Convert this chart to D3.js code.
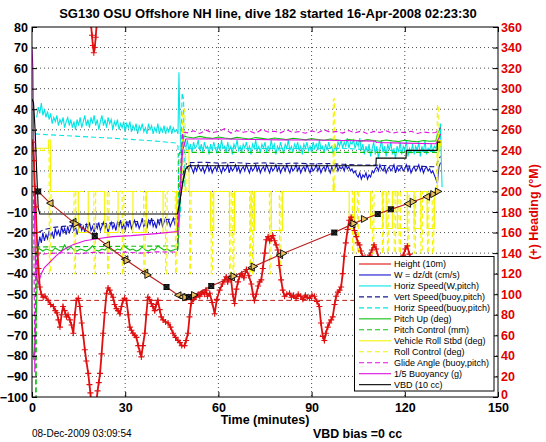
<!DOCTYPE html>
<html><head><meta charset="utf-8">
<script src="https://cdn.jsdelivr.net/npm/d3@7"></script>
<style>body{margin:0;background:#fff}svg{display:block;font-family:"Liberation Sans",Arial,Helvetica,sans-serif}</style>
</head><body><svg id="c" width="546" height="442"></svg>
<script>
// ---------------- DATA ----------------
const titleText = "SG130 OSU Offshore NH line, dive 182 started 16-Apr-2008 02:23:30";
const xLabelText = "Time (minutes)";
const y2LabelText = "(+) Heading (\u00B0M)";
const dateText = "08-Dec-2009 03:09:54";
const biasText = "VBD bias =0 cc";
const xTicks = [0, 30, 60, 90, 120, 150];
const yTicks = [-100,-90,-80,-70,-60,-50,-40,-30,-20,-10,0,10,20,30,40,50,60,70,80];
const y2Ticks = [0,20,40,60,80,100,120,140,160,180,200,220,240,260,280,300,320,340,360];
const legendLabels = ["Height (10m)","W = dz/dt (cm/s)","Horiz Speed(W,pitch)","Vert Speed(buoy,pitch)",
  "Horiz Speed(buoy,pitch)","Pitch Up (deg)","Pitch Control (mm)","Vehicle Roll Stbd (deg)",
  "Roll Control (deg)","Glide Angle (buoy,pitch)","1/5 Buoyancy (g)","VBD (10 cc)"];

// depth ("Height (10m)") trace and its markers [t, value, kind]
const depthLine = [[2,0],[5.8,-5.7],[13.2,-14.8],[20.2,-21.7],[24,-26],[29.9,-33],[36.3,-39.5],[43.3,-46.5],
  [47,-50.5],[49,-51.5],[51,-51.3],[52.5,-50.2],[57.7,-46],[64.6,-41.5],[71,-36.8],[80.6,-30.3],
  [97.3,-20],[103,-16],[107,-13.4],[111.3,-11],[115.5,-8.7],[120.9,-6],[127,-2.6],[131,0]];
const depthMarks = [[2,0,"X"],[5.8,-5.7,"L"],[13.2,-14.8,"L"],[14.2,-15.7,"R"],[20.2,-21.7,"X"],[24,-26,"L"],
  [29.9,-33,"L"],[30.6,-33.7,"R"],[36.3,-39.5,"L"],[37.3,-40.6,"R"],[43.3,-46.5,"X"],[47,-50.5,"L"],
  [48.3,-51.3,"L"],[49.5,-51.5,"R"],[50.5,-51.4,"X"],[52.3,-50.4,"R"],[57.7,-46,"X"],[64.2,-41.8,"L"],
  [65,-41.2,"R"],[70.6,-37.1,"L"],[71.5,-36.5,"R"],[79.7,-31,"L"],[81,-30.1,"R"],[97.3,-20,"X"],
  [103,-16,"L"],[103.6,-15.6,"R"],[107,-13.4,"R"],[111.3,-11,"X"],[115.5,-8.7,"X"],[120.9,-6,"L"],
  [122.7,-5,"R"],[127,-2.6,"L"],[129.3,-1.3,"R"],[130.8,0,"R"]];
const bottomDepth = [[2,-53],[131,-53]];

// heading, degrees magnetic (right axis); null = wrap break
const heading = [[0.3,248],[0.6,230],[0.9,205],[1.2,185],[1.5,160],[1.8,140],[2.1,125],[2.5,107],[3,100],[3.6,97],
  [4.2,98],[5.2,94],[6,90],[6.9,88],[7.5,84],[8,82],[8.5,75],[9,68],[9.5,80],[10,88],[10.5,84],[11.1,78],
  [11.6,80],[12.2,75],[12.7,70],[13.3,62],[13.8,80],[14.3,94],[14.9,96],[15.4,88],[16,72],[16.5,60],[17,46],
  [17.5,35],[18.1,23],[18.5,12],[18.8,4],[19.0,-3],null,[19.0,362],[19.3,352],[19.6,342],[19.9,335],[20.2,340],
  [20.5,350],[20.8,362],null,[20.8,-3],[21.1,6],[21.5,14],[21.9,23],[22.4,42],[22.9,62],[23.4,82],[24,101],
  [24.5,106],[25,104],[25.5,100],[26.1,97],[26.6,90],[27.2,86],[27.7,84],[28.3,81],[28.8,88],[29.3,94],
  [29.8,96],[30.4,94],[31,80],[31.5,68],[32,65],[32.5,62],[33.1,60],[33.6,58],[34.2,50],[34.7,44],[35.2,39],
  [35.7,50],[36.3,62],[36.8,80],[37.3,97],[37.8,95],[38.4,91],[38.9,88],[39.5,84],[40,90],[40.5,94],[41.1,85],
  [41.6,78],[42.2,75],[43,73],[43.8,72],[44.6,68],[45.4,62],[46.2,58],[47,55],[47.6,53],[48.2,50],[49.1,50],
  [49.6,55],[50.2,62],[50.7,78],[51.2,91],[52,95],[52.8,97],[53.5,100],[54,98],[54.5,101],[55,102],[55.5,100],
  [56,104],[56.5,98],[57.2,101],[58,92],[58.8,81],[59.5,95],[60.4,104],[61.3,110],[62,114],[62.5,117],[63,112],
  [63.5,116],[64.1,114],[64.6,100],[65.2,91],[65.8,105],[66.3,112],[66.8,117],[67.5,120],[68.2,116],[69,124],
  [69.8,118],[70.6,110],[71.1,100],[71.6,94],[72.2,100],[72.8,108],[73.3,112],[73.8,114],[74.3,125],[74.9,140],
  [75.4,153],[76,156],[76.5,152],[77,154],[77.5,157],[78.1,152],[78.6,148],[79.1,143],[79.6,128],[80.2,114],
  [80.7,104],[81.3,98],[82,100],[82.9,101],[83.5,97],[84.2,99],[85,96],[85.7,100],[86.5,98],[87.2,95],[88,99],
  [88.6,97],[89.3,96],[90.1,99],[90.9,98],[91.7,93],[92.5,88],[93,72],[93.6,59],[94.1,55],[94.6,62],[95.2,68],
  [95.7,72],[96.3,75],[96.8,78],[97.4,90],[97.9,98],[98.5,102],[99,104],[99.5,107],[100,120],[100.5,137],
  [101,150],[101.6,163],[102.1,172],[102.7,175],[103.2,170],[103.8,162],[104.4,156],[104.9,150],[105.4,148],
  [105.9,142],[106.4,137],[107.2,136],[108,134],[108.7,138],[109.4,143],[110.1,148],[110.8,144],[111.5,136],
  [112.5,128],[113.5,120],[114.5,112],[115.5,108],[116.5,115],[117.5,122],[118.5,130],[119.5,138],[120.2,144],
  [120.8,147],[121.5,139],[122.5,128],[123.5,118],[124.5,110],[125.5,106],[126.5,112],[127.5,118],[128.5,124],
  [129.5,120],[130.5,126],[131.2,130]];

// W = dz/dt (solid blue); pre-apogee sampled every 0.5 min from 2, post every 0.5 min from 50
const wPre = [-27,-22,-25,-20,-24,-21,-23,-19,-22,-20, -23,-18,-21,-19,-22,-17,-20,-18,-21,-17,
  -20,-18,-16,-19,-17,-21,-18,-16,-19,-17, -20,-16,-18,-15,-19,-17,-20,-16,-18,-15,
  -19,-17,-15,-18,-16,-20,-17,-15,-18,-16, -19,-15,-17,-14,-18,-16,-19,-15,-17,-14,
  -18,-16,-14,-17,-15,-18,-16,-13,-17,-15, -18,-14,-16,-13,-17,-15,-18,-14,-16,-13,
  -17,-15,-13,-16,-14,-17,-15,-13,-16,-14];
const wMid = [[47,-12],[48,0],[49,9],[49.5,12]];
const wPost = [12,10,13,11,9,12,10,13,11,10, 12,9,11,13,10,12,9,11,12,10, 13,11,9,12,10,11,13,9,12,10,
  11,13,10,12,9,11,12,10,13,11, 9,12,10,11,13,10,12,9,11,12, 10,13,11,9,12,10,11,13,10,12,
  9,11,12,10,13,11,9,12,10,11, 13,10,12,9,11,12,10,13,11,9, 12,10,11,13,10,12,9,11,12,10,
  13,11,9,12,10,11,13,10,12,11, 12,10,13,11,12,10,11,9,10,8, 7,9,6,8,7,9,6,8,7,10,
  9,11,12,10,13,11,10,12,9,11, 12,10,11,13,9,12,10,11,12,10, 11,13,10,12,9,11,12,10,11,13,
  10,12,9,11,12,10,11,9,10,8, 6,4,12];
const wEnd = [[131.5,14]];

// Horiz Speed (W,pitch) solid cyan; pre every 0.5 min from 1.5, post every 0.5 min from 49
const hsPre = [36,41,38,43,37,40,36,39,35,38, 33,36,34,37,32,35,33,36,31,34, 36,32,35,31,34,30,35,32,36,31,
  34,37,32,35,31,36,33,37,32,35, 30,34,37,32,35,31,36,33,35,30, 34,32,35,30,33,31,34,29,33,31,
  34,29,32,30,33,28,32,30,33,29, 31,28,33,30,32,28,31,29,33,28, 31,29,32,28,31,29,32,28,31,29,30];
const hsMid = [[47,28],[47.3,58],[47.6,35],[48,18],[48.5,24]];
const hsPost = [24,21,25,20,23,19,24,21,22,25, 20,23,19,24,21,22,18,23,20,24, 21,19,23,20,25,21,22,19,24,20,
  22,18,23,21,25,20,22,19,23,21, 24,20,22,18,23,21,25,20,22,19, 23,21,24,19,22,20,25,21,23,18,
  22,20,24,21,19,23,21,25,20,22, 19,23,21,24,20,22,18,23,21,24, 20,22,19,24,21,23,20,25,21,22,
  19,23,20,24,21,22,18,23,20,24, 22,25,21,24,22,26,21,24,23,25, 21,24,22,26,20,23,18,22,19,23,
  17,21,24,18,22,16,21,25,19,22, 17,23,20,24,18,21,16,22,19,24, 18,22,20,25,17,21,19,23,18,22,
  20,24,17,22,19,25,18,21,20,23, 19,22,21,24,20];
const hsEnd = [[131.5,33],[131.8,12],[132,2]];

// Vert Speed (buoy,pitch) dashed navy
const vsBuoy = [[2,-20],[4,-18.5],[7,-17.5],[10,-17],[14,-16.5],[18,-16],[22,-15.8],[26,-15.3],[30,-15],
  [34,-14.6],[38,-14.2],[42,-13.8],[46.5,-13.3],[47.2,-12],[48,2],[49,12],[50,14],[55,14.2],[60,13.8],
  [65,14.1],[70,13.6],[75,13.9],[80,13.5],[85,13.8],[90,13.4],[95,13.6],[100,13.2],[105,12.9],[110,12.8],
  [115,12.5],[120,12.4],[125,12.2],[130,12],[131,16],[131.5,17]];
// Horiz Speed (buoy,pitch) dashed cyan
const hsBuoy = [[1,28],[5,27.6],[10,27.2],[15,26.8],[20,26.4],[25,26],[30,25.5],[35,25],[40,24.5],[46.5,23.5],
  [47,22],[47.3,-15],[47.8,-10],[48.3,48],[48.8,45],[49,2],[49.4,20],[50,21],[60,21.2],[70,20.8],[80,21],
  [90,20.7],[100,21],[110,20.2],[120,19.8],[130,19.3],[131.5,24]];

// Pitch Up (deg) solid green
const pitchStart = [[0,-60],[0.3,-78],[0.6,-82],[1,-72],[1.5,-55],[1.8,-30],[2.2,-27.5]];
const pitchPre = [-28,-29,-28,-28.5,-29,-27.5,-28.5,-29,-26,-28.5, -27,-28.5,-29,-28,-28.5,-29,-28,-26.5,-28.5,-29,
  -28,-28.5,-27,-28.5,-29,-28,-28.5,-26,-27.5,-28.5, -28,-29,-28.5,-27,-28.5,-29,-28,-28.5,-26.5,-27.5,
  -28.5,-28,-29,-28.5,-28];
const pitchMid = [[47,-28],[47.5,-10],[48.2,20],[48.8,27]];
const pitchPost = [26.5,26,26.8,26.2,25.8,26.5,26,25.6,26.3,25.9, 25.5,26.2,25.8,25.4,26,25.6,25.2,25.9,25.5,25.1,
  25.7,25.3,24.9,25.5,25.1,24.7,25.3,24.9,24.5,25.2, 24.8,24.4,25,24.6,24.3,24.9,24.5,24.2,24.8,24.4,24.6];
const pitchEnd = [[130.5,28],[131.5,31]];
// Pitch Control (mm) dashed green
const pitchCtl = [[0,-27],[1.1,-27],[1.2,-112],[1.35,-112],[1.45,-27],[46.8,-26.5],[47.3,18],[47.6,19],
  [131,19],[131.5,25]];

// Vehicle Roll Stbd (deg) solid yellow
const roll = [[0,18],[0.3,21],[5.3,21],[5.4,25],[5.9,25],[6,0],[14.9,0],[14.9,-20],[18.1,-20],[18.1,0],
  [23.4,0],[23.4,-20],[27.7,-20],[27.7,0],[32.5,0],[32.5,-20],[36.8,-20],[36.8,0],[42.2,0],[42.2,-20],
  [46.5,-20],[46.5,0],[49.3,0],[49.4,20],[50.5,20],[50.6,0],[57.5,0],[57.5,-19],[58.5,-19],[58.5,0],
  [63.6,0],[63.6,-19],[65.2,-19],[65.2,0],[70.5,0],[70.5,-19],[71.6,-19],[71.6,0],[77,0],[77,-19],
  [80.6,-19],[80.6,0],[97,0],[97.1,6],[97.3,0],[102.1,0],[102.1,-18],[103.8,-18],[103.8,0],[109,0],
  [109,-18],[112.9,-18],[112.9,0],[114,0],[114,-18],[116,-18],[116,0],[117.6,0],[117.6,-18],[120.8,-18],
  [120.8,0],[123,0],[123,-18],[125.2,-18],[125.2,0],[127.2,0],[127.2,-18],[129.5,-18],[129.5,0],
  [130.5,0],[130.8,28],[131.2,20],[131.5,25]];
// Roll Control (deg) dashed yellow
const rollCtl = [[0,20],[5.5,20],[5.6,-40],[6,-40],[6.1,0],[13.5,0],[13.6,-40],[14,-40],[14.1,0],[19.9,0],
  [20,-40],[20.4,-40],[20.5,0],[24.2,0],[24.3,-40],[24.7,-40],[24.8,0],[29,0],[29.1,-40],[29.5,-40],
  [29.6,0],[35.9,0],[36,-40],[36.4,-40],[36.5,0],[42.9,0],[43,-40],[43.4,-40],[43.5,0],[46.1,0],
  [46.2,-40],[46.6,-40],[46.7,0],[48.3,0],[48.5,40],[49.2,40],[49.6,0],[50.7,0],[50.8,-40],[51.1,-40],
  [51.2,0],[57.6,0],[57.7,-40],[58.1,-40],[58.2,0],[63.5,0],[63.6,-40],[64,-40],[64.1,0],[64.6,0],
  [64.7,-40],[65,-40],[65.1,0],[70,0],[70.1,-40],[70.4,-40],[70.5,0],[70.9,0],[71,-40],[71.3,-40],
  [71.4,0],[76.4,0],[76.5,-40],[76.9,-40],[77,0],[79.6,0],[79.7,-40],[80.1,-40],[80.2,0],[96.9,0],
  [97,45],[97.4,45],[97.5,0],[103.1,0],[103.2,-30],[103.6,-30],[103.7,0],[104.7,0],[104.8,-30],
  [105.1,-30],[105.2,0],[109.5,0],[109.6,-30],[110,-30],[110.1,0],[112.7,0],[112.8,-30],[113.1,-30],
  [113.2,0],[114.3,0],[114.4,-30],[114.8,-30],[114.9,0],[116.5,0],[116.6,-30],[117,-30],[117.1,0],
  [118.1,0],[118.2,-30],[118.6,-30],[118.7,0],[120.8,0],[120.9,-30],[121.3,-30],[121.4,0],[122.9,0],
  [123,-30],[123.4,-30],[123.5,0],[125.1,0],[125.2,-30],[125.6,-30],[125.7,0],[127.2,0],[127.3,-30],
  [127.7,-30],[127.8,0],[128.8,0],[128.9,-30],[129.3,-30],[129.4,0],[130.3,0],[130.5,42],[130.9,42],
  [131.1,20],[131.5,24]];

// Glide Angle (buoy,pitch) dashed magenta
const glideStart = [[0.5,0],[0.9,-88],[1.2,-40],[1.6,-31],[5,-30.2],[10,-29.8],[15,-30.3],[20,-29.6],
  [25,-30.1],[30,-29.5],[35,-30],[40,-29.4],[46.8,-29.5],[47.5,0],[48.5,29]];
const glidePost = [28.5,29.5,28.2,29.8,28.6,29.2,30.5,28.4,29.6,28.8, 29.4,28.2,30.2,28.9,29.3,28.5,29.9,28.7,29.1,28.3,
  29.5,28.6,30,28.8,29.2,28.4,29.6,28.5,29.4,28.1, 29.2,28.7,29.5,28.3,29,28.6,29.3,28.2,28.9,28.5,28.7];
const glideEnd = [[131.5,31]];
// 1/5 Buoyancy (g) solid magenta
const buoy = [[0,69],[0.3,60],[0.6,20],[0.9,-20],[1.2,-35],[1.5,-42],[2,-45],[3,-40],[4,-37],[6,-34],
  [8,-31],[10,-28.5],[13,-26],[17,-24],[21,-23],[26,-22],[32,-21.5],[40,-20.5],[46.8,-19.5],[47.5,-5],
  [48.5,20],[49.5,25.5],[60,25.6],[70,25.3],[80,25.1],[90,25],[100,24.8],[110.6,24.5],[110.8,23.8],
  [120,23.5],[130,23.2],[131,26],[131.5,28]];
// VBD (10 cc) solid black
const vbd = [[0,45],[0.5,43],[1,30],[1.5,10],[2,-8],[2.5,-11],[46.8,-11],[47.5,-6],[48.5,4],[49.5,11],
  [50.5,12.5],[110.7,12.5],[110.8,16.2],[120.4,16.2],[120.5,20],[130.4,20],[130.5,24],[131.5,24]];

// ---------------- HELPERS ----------------
function seq(t0, dt, vals){ return vals.map((v,i)=>[t0+i*dt, v]); }

const W = 546, H = 442;
const m = {left:32, top:27, right:48, bottom:45};
const pw = W - m.left - m.right, ph = H - m.top - m.bottom;
const x = d3.scaleLinear().domain([0,150]).range([m.left, m.left+pw]);
const y = d3.scaleLinear().domain([-100,80]).range([m.top+ph, m.top]);
const y2 = d3.scaleLinear().domain([0,360]).range([m.top+ph, m.top]);

const svg = d3.select("#c");
const font = '"Liberation Sans",Arial,Helvetica,sans-serif';

// grid
const grid = svg.append("g").attr("stroke","#000").attr("stroke-width",0.7).attr("stroke-dasharray","1,3");
grid.selectAll("line.h").data(yTicks.filter(v=>v>-100&&v<80)).join("line")
  .attr("x1",m.left).attr("x2",m.left+pw).attr("y1",d=>y(d)).attr("y2",d=>y(d));
grid.selectAll("line.v").data(xTicks.filter(v=>v>0&&v<150)).join("line").attr("class","v")
  .attr("y1",m.top).attr("y2",m.top+ph).attr("x1",d=>x(d)).attr("x2",d=>x(d));

// clip
svg.append("clipPath").attr("id","clip").append("rect")
  .attr("x",m.left).attr("y",m.top).attr("width",pw).attr("height",ph);
const plot = svg.append("g").attr("clip-path","url(#clip)");

const line = d3.line().defined(d=>d!=null).x(d=>x(d[0])).y(d=>y(d[1]));
const line2 = d3.line().defined(d=>d!=null).x(d=>x(d[0])).y(d=>y2(d[1]));

const C = {red:"#e01010", depth:"#b8201c", blue:"#1414d0", cyan:"#00e6e6", navy:"#18188c",
  green:"#10c010", yellow:"#f4f400", magenta:"#e010e0", black:"#000"};
const DASH = "5,3";

const series = [
  {d:[...seq(2,0.5,wPre),...wMid,...seq(50,0.5,wPost),...wEnd], c:C.blue},
  {d:[...seq(1.5,0.5,hsPre),...hsMid,...seq(49,0.5,hsPost),...hsEnd], c:C.cyan},
  {d:vsBuoy, c:C.navy, dash:DASH},
  {d:hsBuoy, c:C.cyan, dash:DASH},
  {d:[...pitchStart,...seq(2.5,1,pitchPre),...pitchMid,...seq(50,2,pitchPost),...pitchEnd], c:C.green},
  {d:pitchCtl, c:C.green, dash:DASH},
  {d:roll, c:C.yellow},
  {d:rollCtl, c:C.yellow, dash:DASH},
  {d:[...glideStart,...seq(50,2,glidePost),...glideEnd], c:C.magenta, dash:DASH},
  {d:buoy, c:C.magenta},
  {d:vbd, c:C.black}
];
series.forEach(s=>{
  plot.append("path").attr("d",line(s.d)).attr("fill","none").attr("stroke",s.c)
    .attr("stroke-width",1.1).attr("stroke-dasharray",s.dash||null);
});

// bottom dashed
plot.append("path").attr("d",line(bottomDepth)).attr("fill","none").attr("stroke",C.depth)
  .attr("stroke-width",1).attr("stroke-dasharray","5,3");

// heading
plot.append("path").attr("d",line2(heading)).attr("fill","none").attr("stroke",C.red).attr("stroke-width",1.8);
plot.append("g").selectAll("path").data(heading.filter(d=>d!=null)).join("path")
  .attr("transform",d=>`translate(${x(d[0])},${y2(d[1])})`)
  .attr("d","M-3,0H3M0,-3V3").attr("stroke",C.red).attr("stroke-width",1.1);

// depth line + markers
plot.append("path").attr("d",line(depthLine)).attr("fill","none").attr("stroke",C.depth).attr("stroke-width",1.2);
const mk = plot.append("g");
mk.selectAll("path").data(depthMarks).join("path")
  .attr("transform",d=>`translate(${x(d[0])},${y(d[1])})`)
  .attr("d",d=> d[2]==="L" ? "M-3.5,0L3,-3.5L3,3.5Z" : d[2]==="R" ? "M3.5,0L-3,-3.5L-3,3.5Z" : "M-3,-3L3,3M-3,3L3,-3M-2.5,-2.5H2.5V2.5H-2.5Z")
  .attr("fill",d=>d[2]==="X" ? "#333" : "#e8c060").attr("stroke","#000").attr("stroke-width",0.9);

// frame
svg.append("rect").attr("x",m.left).attr("y",m.top).attr("width",pw).attr("height",ph)
  .attr("fill","none").attr("stroke","#000").attr("stroke-width",1);

// axes
const axL = svg.append("g").attr("transform",`translate(${m.left},0)`)
  .call(d3.axisLeft(y).tickValues(yTicks).tickSize(-5).tickPadding(4));
const axR = svg.append("g").attr("transform",`translate(${m.left+pw},0)`)
  .call(d3.axisRight(y2).tickValues(y2Ticks).tickSize(-5).tickPadding(3));
const axB = svg.append("g").attr("transform",`translate(0,${m.top+ph})`)
  .call(d3.axisBottom(x).tickValues(xTicks).tickSize(-5).tickPadding(6));
const axT = svg.append("g").attr("transform",`translate(0,${m.top})`)
  .call(d3.axisTop(x).tickValues(xTicks).tickSize(-5).tickFormat(""));
[axL,axR,axB,axT].forEach(a=>{ a.select(".domain").remove(); a.selectAll("line").attr("stroke","#000");
  a.selectAll("text").attr("font-family",font).attr("font-size",12.5).attr("font-weight","bold").attr("fill","#000"); });
axR.selectAll("text").attr("fill","#e00000");
axR.selectAll(".tick text").filter(d=>d===0).attr("dy","0.1em");

// texts
svg.append("text").attr("x",268).attr("y",18).attr("text-anchor","middle")
  .attr("font-family",font).attr("font-size",13).attr("font-weight","bold").text(titleText);
svg.append("text").attr("x",m.left+pw/2).attr("y",424).attr("text-anchor","middle")
  .attr("font-family",font).attr("font-size",12.5).attr("font-weight","bold").text(xLabelText);
svg.append("text").attr("transform",`translate(538,${m.top+ph/2}) rotate(-90)`).attr("text-anchor","middle")
  .attr("font-family",font).attr("font-size",12.5).attr("font-weight","bold").attr("fill","#e00000").text(y2LabelText);
svg.append("text").attr("x",32).attr("y",437).attr("font-family",font).attr("font-size",10).text(dateText);
svg.append("text").attr("x",313).attr("y",438).attr("font-family",font).attr("font-size",12.4)
  .attr("font-weight","bold").text(biasText);

// legend
const legStyles = [[C.red,null],[C.blue,null],[C.cyan,null],[C.navy,DASH],[C.cyan,DASH],[C.green,null],
  [C.green,DASH],[C.yellow,null],[C.yellow,DASH],[C.magenta,DASH],[C.magenta,null],[C.black,null]];
const lg = svg.append("g");
lg.append("rect").attr("x",354.5).attr("y",256.5).attr("width",139.5).attr("height",134.5)
  .attr("fill","#fff").attr("stroke","#000").attr("stroke-width",1);
legendLabels.forEach((lab,i)=>{
  const yy = 264 + i*10.97;
  lg.append("line").attr("x1",359).attr("x2",391).attr("y1",yy).attr("y2",yy)
    .attr("stroke",legStyles[i][0]).attr("stroke-width",1.1).attr("stroke-dasharray",legStyles[i][1]);
  lg.append("text").attr("x",394).attr("y",yy+3.2).attr("font-family",font).attr("font-size",9).text(lab);
});
</script></body></html>
